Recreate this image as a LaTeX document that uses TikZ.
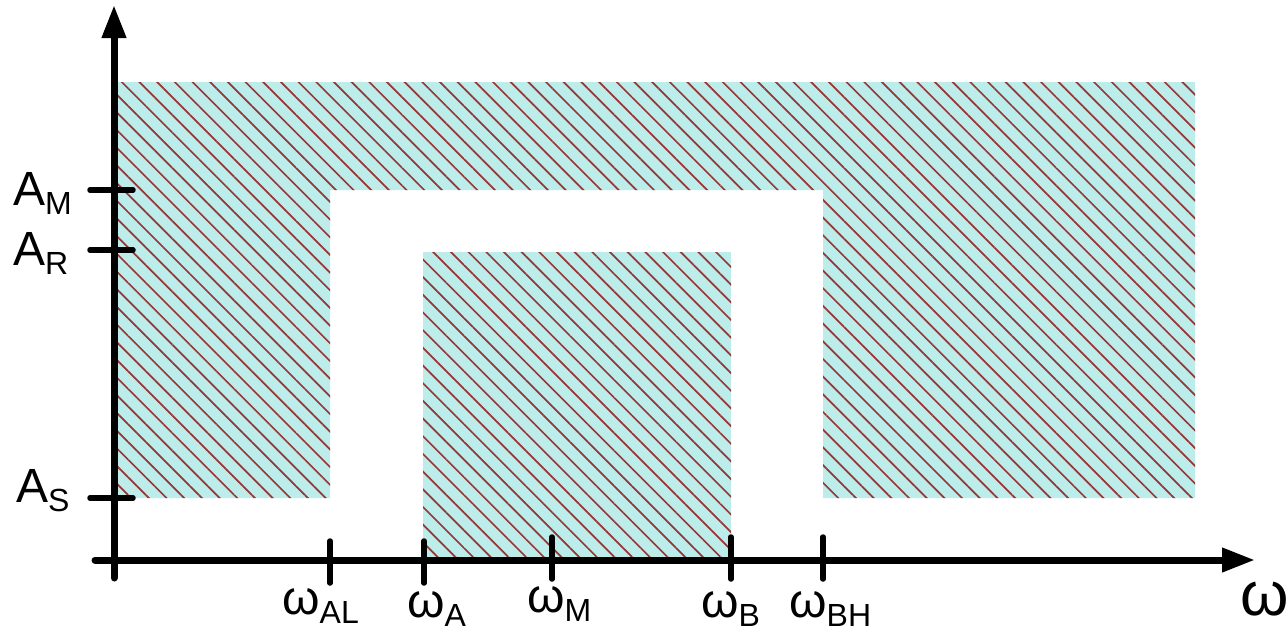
\documentclass[tikz,border=0pt]{standalone}
\usepackage{fontspec}
\setmainfont{Liberation Sans}
\usetikzlibrary{arrows.meta,patterns.meta}
\definecolor{hatchbg}{RGB}{189,237,235}
\definecolor{hatchline}{RGB}{150,55,55}
\newcommand\sublab[2]{#1\raisebox{-9pt}{\fontsize{32}{32}\selectfont #2}}
\tikzset{
  hatched/.style={fill=hatchbg, postaction={pattern={Lines[angle=-45,distance=12.5pt,line width=1.7pt]}, pattern color=hatchline}},
  axis/.style={line width=7pt, line cap=round, -{Triangle[length=33pt,width=23pt]}},
  tick/.style={line width=5.5pt, line cap=round},
  lab/.style={inner sep=0pt, anchor=base west, font=\fontsize{48}{48}\selectfont},
}
\begin{document}
\begin{tikzpicture}[x=1pt,y=-1pt]
\useasboundingbox (0,0) rectangle (1288,632);
% hatched regions
\path[hatched] (114,82) -- (1195,82) -- (1195,498) -- (823,498) -- (823,190) -- (330,190) -- (330,498) -- (114,498) -- cycle;
\path[hatched] (423,252) rectangle (731,557);
% axes
\coordinate (ybot) at (114,578);
\coordinate (ytop) at (114,5);
\coordinate (xleft) at (95,560);
\coordinate (xright) at (1255,560);
\draw[axis] (ybot) -- (ytop);
\draw[axis] (xleft) -- (xright);
% y ticks
\draw[tick] (90,190) -- (133,190);
\draw[tick] (90,250) -- (133,250);
\draw[tick] (90,498) -- (133,498);
% x ticks
\draw[tick] (330,541) -- (330,583);
\draw[tick] (424,541) -- (424,583);
\draw[tick] (552,537) -- (552,579);
\draw[tick] (731,537) -- (731,579);
\draw[tick] (823,537) -- (823,579);
% labels
\node[lab] (am) at (13,205) {\sublab{A}{M}};
\node[lab] (ar) at (13,265) {\sublab{A}{R}};
\node[lab] (as) at (16,502) {\sublab{A}{S}};
\node[lab] (wal) at (282,614) {\sublab{ω}{AL}};
\node[lab] (wa) at (407,617) {\sublab{ω}{A}};
\node[lab] (wm) at (527,612) {\sublab{ω}{M}};
\node[lab] (wb) at (701,617) {\sublab{ω}{B}};
\node[lab] (wbh) at (789,617) {\sublab{ω}{BH}};
\node[lab, font=\fontsize{62}{62}\selectfont] (w) at (1240,615) {ω};
\end{tikzpicture}
\end{document}
